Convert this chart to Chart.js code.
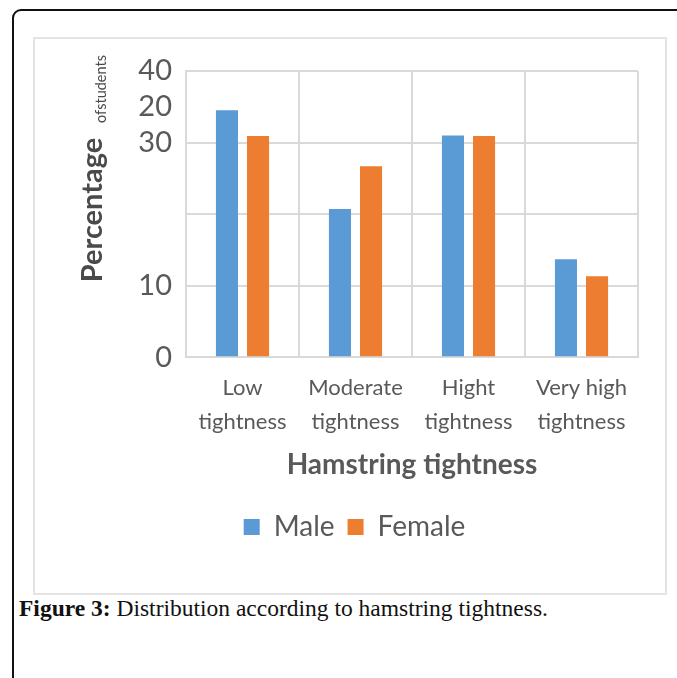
<!DOCTYPE html>
<html>
<head>
<meta charset="utf-8">
<script src="https://cdn.jsdelivr.net/npm/chart.js@4.4.1/dist/chart.umd.min.js"></script>
<style>
  html, body { margin: 0; padding: 0; background: #fff; }
  body { width: 677px; height: 678px; position: relative; overflow: hidden; }
  .frame {
    position: absolute; left: 12px; top: 9px; width: 720px; height: 720px;
    border: 2px solid #111; border-radius: 9px; box-sizing: border-box;
  }
  .panel {
    position: absolute; left: 33px; top: 37px; width: 634px; height: 558px;
    border: 2px solid #e4e4e4; box-sizing: border-box; background: #fff;
  }
  .plot { position: absolute; left: 35px; top: 39px; width: 630px; height: 554px; }
  .caption {
    position: absolute; left: 19px; top: 594px;
    font-family: "Liberation Serif", "DejaVu Serif", serif; font-size: 23.5px; color: #111;
    line-height: 28px; white-space: nowrap;
  }
  .caption b { font-weight: bold; }
</style>
</head>
<body>
<div class="frame"></div>
<div class="panel"></div>
<div class="plot"><canvas id="chart"></canvas></div>
<div class="caption"><b>Figure 3:</b> Distribution according to hamstring tightness.</div>

<script>
// categories and series
const categories = [
  ['Low', 'tightness'],
  ['Moderate', 'tightness'],
  ['Hight', 'tightness'],
  ['Very high', 'tightness']
];
const maleValues = [34.5, 20.7, 31.0, 13.7];
const femaleValues = [30.9, 26.7, 30.9, 11.3];

// y axis ticks as printed on the axis
const yTickValues = [0, 10, 20, 30, 35, 40];
const yTickLabels = ['0', '10', '', '30', '20', '40'];

const textColor = '#595959';
const gridColor = '#d9d9d9';

// rotated axis title with the small trailing words
const yTitlePlugin = {
  id: 'yTitle',
  afterDraw(chart) {
    const ctx = chart.ctx;
    ctx.save();
    ctx.fillStyle = '#4a4a4a';
    ctx.textAlign = 'center';
    ctx.textBaseline = 'alphabetic';

    ctx.save();
    ctx.translate(67, 171);
    ctx.rotate(-Math.PI / 2);
    ctx.font = 'bold 29px Lato';
    ctx.fillText('Percentage', 0, 0);
    ctx.restore();

    ctx.save();
    ctx.translate(71, 50);
    ctx.rotate(-Math.PI / 2);
    ctx.font = '14.5px Lato';
    ctx.fillText('ofstudents', 0, 0);
    ctx.restore();

    ctx.restore();
  }
};

new Chart(document.getElementById('chart'), {
  type: 'bar',
  data: {
    labels: categories,
    datasets: [
      { label: 'Male', data: maleValues, backgroundColor: '#5b9bd5' },
      { label: 'Female', data: femaleValues, backgroundColor: '#ed7d31' }
    ]
  },
  options: {
    responsive: true,
    maintainAspectRatio: false,
    animation: false,
    events: [],
    categoryPercentage: 0.55,
    barPercentage: 0.71,
    layout: { padding: { top: 32, right: 27, bottom: 42, left: 36 } },
    plugins: {
      legend: {
        position: 'bottom',
        labels: {
          boxWidth: 16, boxHeight: 16, padding: 13,
          color: textColor,
          font: { family: 'Lato', size: 28 }
        }
      },
      tooltip: { enabled: false }
    },
    scales: {
      x: {
        grid: { color: gridColor, lineWidth: 2, drawTicks: false, offset: true },
        border: { color: gridColor, width: 2 },
        ticks: {
          color: textColor, padding: 14, maxRotation: 0,
          font: { family: 'Lato', size: 22, lineHeight: 1.55 }
        },
        title: {
          display: true, text: 'Hamstring tightness', color: textColor,
          font: { family: 'Lato', size: 28, weight: 'bold' },
          padding: { top: -5, bottom: 18 }
        }
      },
      y: {
        min: 0, max: 40,
        afterFit(scale) { scale.width = 115; },
        afterBuildTicks(scale) {
          scale.ticks = yTickValues.map(v => ({ value: v }));
        },
        ticks: {
          color: textColor, padding: 14,
          font: { family: 'Lato', size: 29 },
          callback: (value) => {
            const i = yTickValues.indexOf(value);
            return i >= 0 ? yTickLabels[i] : '';
          }
        },
        grid: {
          drawTicks: false, lineWidth: 2,
          color: (c) => (c.tick && c.tick.value % 10 === 0) ? gridColor : 'rgba(0,0,0,0)'
        },
        border: { color: gridColor, width: 2 }
      }
    }
  },
  plugins: [yTitlePlugin]
});
</script>
</body>
</html>
